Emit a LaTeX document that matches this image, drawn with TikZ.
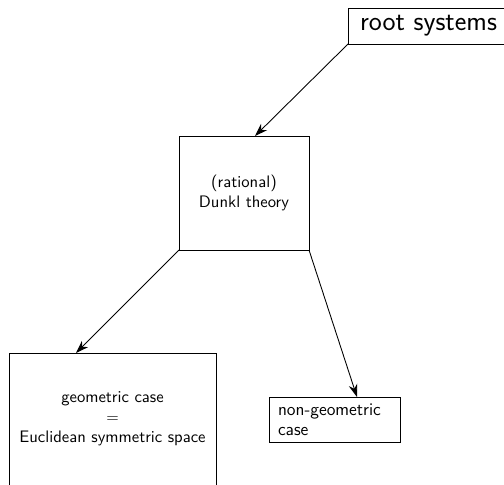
\documentclass[tikz,border=0pt]{standalone}
\usetikzlibrary{arrows.meta,calc}
\begin{document}
\begin{tikzpicture}[x=0.625pt,y=-0.625pt,
  font=\sffamily\fontsize{10.4}{12.6}\selectfont,
  box/.style={draw,line width=0.55pt,inner sep=0pt,outer sep=0pt,align=center},
  link/.style={line width=0.55pt,-{Stealth[length=8pt,width=5.5pt]}}]
  \useasboundingbox (0,0) rectangle (504,484);
  \clip (0,0) rectangle (504,484);
  \node[box,minimum width=161*0.625pt,minimum height=36*0.625pt,font=\sffamily\LARGE] (root) at (428.5,26) {root systems};
  \node[box,minimum width=130*0.625pt,minimum height=114*0.625pt] (dunkl) at (244,193) {(rational)\\Dunkl theory};
  \node[box,minimum width=207*0.625pt,minimum height=132*0.625pt] (geo) at (112.5,419) {geometric case\\$=$\\Euclidean symmetric space};
  \node[box,minimum width=131*0.625pt,minimum height=45*0.625pt,text width=113*0.625pt,align=left,
        font=\sffamily\fontsize{11.1}{12.4}\selectfont] (ngeo) at (334.5,419.5) {non-geometric\\case};
  \draw[link] (root.south west) -- ($(dunkl.north)+(11,0)$);
  \draw[link] (dunkl.south west) -- ($(geo.north)+(-36.5,0)$);
  \draw[link] (dunkl.south east) -- ($(ngeo.north)+(22.5,0)$);
\end{tikzpicture}
\end{document}
